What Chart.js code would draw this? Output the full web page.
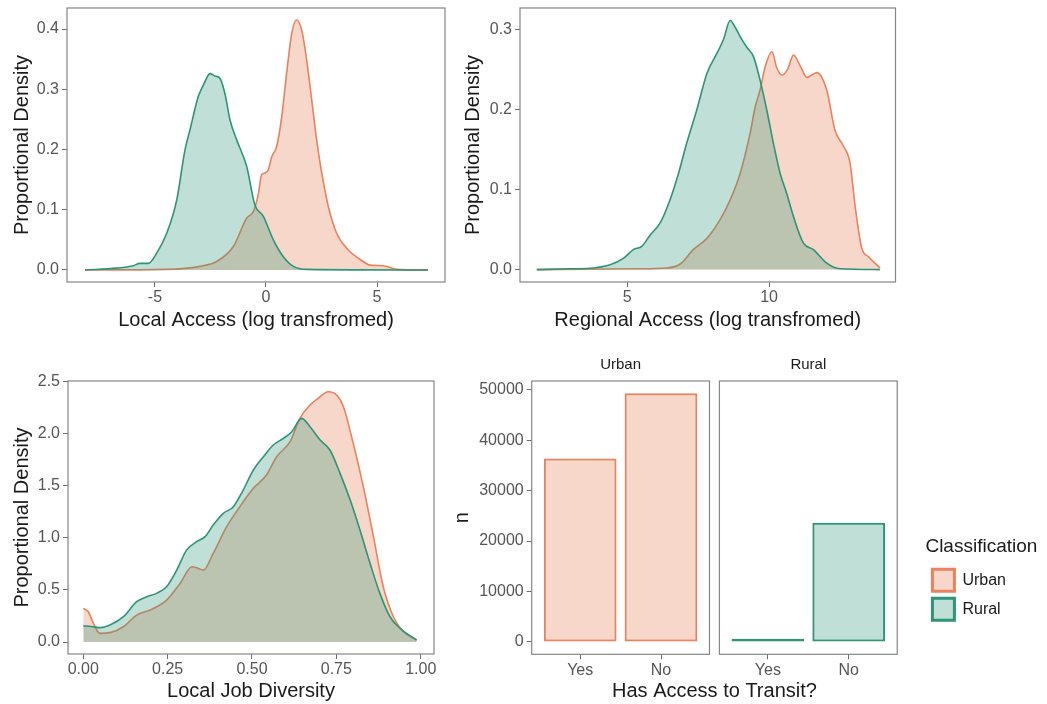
<!DOCTYPE html>
<html>
<head>
<meta charset="utf-8">
<title>Urban vs Rural access</title>
<script src="https://cdn.jsdelivr.net/npm/chart.js@4.4.1/dist/chart.umd.min.js"></script>
<style>
  html, body { margin: 0; padding: 0; background: #fff; }
  #wrap { position: relative; width: 1047px; height: 704px; overflow: hidden; }
  .panel { position: absolute; }
</style>
</head>
<body>
<div id="wrap">
  <div class="panel" style="left:0;top:0;width:455px;height:340px"><canvas id="localAccess"></canvas></div>
  <div class="panel" style="left:455px;top:0;width:450px;height:340px"><canvas id="regionalAccess"></canvas></div>
  <div class="panel" style="left:0;top:352px;width:440px;height:352px"><canvas id="jobDiversity"></canvas></div>
  <div class="panel" style="left:440px;top:352px;width:607px;height:352px"><canvas id="transit"></canvas></div>
</div>
<script>
/* ---------- data ---------- */

// Local Access (log transformed) densities
const localUrbanX = [-8.15, -4.47, -2.97, -2.22, -1.47, -0.87, -0.57, -0.35, -0.2, -0.05, 0.1, 0.26, 0.48, 0.71, 0.93, 1.16, 1.38, 1.61, 1.83, 2.06, 2.28, 2.51, 2.81, 3.18, 3.71, 4.38, 4.68, 5.28, 5.89, 7.3];
const localUrbanY = [0, 0.001, 0.006, 0.014, 0.039, 0.086, 0.097, 0.125, 0.158, 0.161, 0.166, 0.188, 0.205, 0.255, 0.327, 0.393, 0.415, 0.398, 0.349, 0.282, 0.216, 0.161, 0.105, 0.061, 0.033, 0.014, 0.008, 0.007, 0.001, 0];
const localRuralX = [-8.15, -6.73, -5.98, -5.68, -5.3, -4.92, -4.47, -4.02, -3.65, -3.42, -3.05, -2.82, -2.52, -2.3, -2.07, -1.85, -1.62, -1.32, -0.87, -0.5, -0.12, 0.33, 0.78, 1.23, 1.83, 7.3];
const localRuralY = [0, 0.003, 0.007, 0.011, 0.011, 0.028, 0.061, 0.116, 0.199, 0.233, 0.288, 0.307, 0.326, 0.322, 0.318, 0.293, 0.249, 0.216, 0.172, 0.108, 0.089, 0.05, 0.022, 0.006, 0.001, 0];
const localTicksX = [-5, 0, 5];
const localTicksY = [0, 0.1, 0.2, 0.3, 0.4];

// Regional Access (log transformed) densities
const regUrbanX = [1.82, 3.58, 5.34, 6.4, 6.87, 7.33, 7.81, 8.27, 8.63, 8.98, 9.33, 9.51, 9.68, 9.86, 10.1, 10.27, 10.45, 10.65, 10.86, 11.1, 11.33, 11.5, 11.68, 12.03, 12.32, 12.62, 12.85, 13.03, 13.26, 13.5, 13.91];
const regUrbanY = [0, 0.0005, 0.001, 0.002, 0.007, 0.025, 0.039, 0.062, 0.087, 0.12, 0.17, 0.203, 0.224, 0.253, 0.272, 0.252, 0.243, 0.25, 0.268, 0.254, 0.24, 0.243, 0.246, 0.224, 0.174, 0.154, 0.133, 0.079, 0.027, 0.016, 0.002];
const regRuralX = [1.82, 2.99, 3.81, 4.4, 4.87, 5.22, 5.52, 5.81, 6.16, 6.51, 6.81, 7.1, 7.45, 7.81, 8.16, 8.39, 8.63, 8.8, 8.98, 9.21, 9.45, 9.68, 9.92, 10.15, 10.39, 10.62, 10.86, 11.21, 11.56, 12.03, 12.5, 13.9];
const regRuralY = [0, 0.001, 0.002, 0.006, 0.014, 0.025, 0.029, 0.043, 0.058, 0.087, 0.12, 0.158, 0.199, 0.245, 0.27, 0.287, 0.311, 0.303, 0.291, 0.278, 0.266, 0.237, 0.199, 0.158, 0.12, 0.095, 0.066, 0.033, 0.025, 0.008, 0.001, 0];
const regTicksX = [5, 10];
const regTicksY = [0, 0.1, 0.2, 0.3];

// Local Job Diversity densities
const divUrbanX = [0, 0.015, 0.03, 0.049, 0.079, 0.119, 0.158, 0.198, 0.247, 0.287, 0.322, 0.341, 0.356, 0.385, 0.425, 0.464, 0.504, 0.543, 0.573, 0.613, 0.642, 0.672, 0.696, 0.726, 0.751, 0.771, 0.8, 0.83, 0.86, 0.889, 0.919, 0.949, 0.988];
const divUrbanY = [0.323, 0.291, 0.179, 0.083, 0.09, 0.147, 0.259, 0.307, 0.403, 0.563, 0.723, 0.707, 0.691, 0.851, 1.108, 1.3, 1.476, 1.604, 1.78, 1.924, 2.148, 2.276, 2.34, 2.404, 2.372, 2.26, 1.908, 1.492, 1.012, 0.531, 0.243, 0.099, 0.019];
const divRuralX = [0, 0.03, 0.05, 0.079, 0.119, 0.158, 0.188, 0.217, 0.247, 0.277, 0.306, 0.336, 0.361, 0.385, 0.415, 0.445, 0.474, 0.504, 0.534, 0.563, 0.593, 0.618, 0.647, 0.672, 0.702, 0.731, 0.761, 0.791, 0.82, 0.85, 0.879, 0.909, 0.939, 0.988];
const divRuralY = [0.157, 0.147, 0.138, 0.163, 0.243, 0.387, 0.435, 0.467, 0.531, 0.691, 0.883, 0.964, 1.012, 1.124, 1.236, 1.3, 1.46, 1.652, 1.78, 1.892, 1.956, 2.02, 2.148, 2.068, 1.94, 1.844, 1.62, 1.364, 1.076, 0.755, 0.467, 0.243, 0.131, 0.019];
const divTicksX = [0, 0.25, 0.5, 0.75, 1];
const divTicksY = [0, 0.5, 1, 1.5, 2, 2.5];

// Has Access to Transit? counts, faceted by classification
const transitCats = ['Yes', 'No'];
const urbanCounts = [36400, 49350];
const ruralCounts = [600, 23650];
const countTicks = [0, 10000, 20000, 30000, 40000, 50000];

/* ---------- styling ---------- */
const FONT = "'Liberation Sans', Arial, sans-serif";
const URBAN = '#e9825d', URBAN_FILL = 'rgba(233,130,93,0.32)';
const RURAL = '#2e9478', RURAL_FILL = 'rgba(46,148,120,0.3)';
const LABEL_COLOR = '#555555';
const TITLE_COLOR = '#1a1a1a';
const FRAME_COLOR = '#858585';

Chart.defaults.font.family = FONT;

// ggplot-like panel border (+ facet strips)
const panelFrame = {
  id: 'panelFrame',
  afterLayout(chart) {
    // give the legend the rest of the canvas so its title is not clipped
    const lg = chart.legend;
    if (lg && lg.options.display) { lg.right = chart.width; lg.width = lg.right - lg.left; }
  },
  afterDatasetsDraw(chart, args, opts) {
    const { ctx, chartArea: a } = chart;
    const xs = chart.scales.x;
    const facets = opts.facets || [{ min: xs.min, max: xs.max }];
    ctx.save();
    ctx.strokeStyle = FRAME_COLOR;
    ctx.lineWidth = 1.2;
    facets.forEach(f => {
      const l = xs.getPixelForValue(f.min), r = xs.getPixelForValue(f.max);
      ctx.strokeRect(l, a.top, r - l, a.bottom - a.top);
      if (f.label) {
        ctx.fillStyle = TITLE_COLOR;
        ctx.font = '15px ' + FONT;
        ctx.textAlign = 'center';
        ctx.textBaseline = 'middle';
        ctx.fillText(f.label, (l + r) / 2, a.top - 16);
      }
    });
    ctx.restore();
  }
};

function axis(o) {
  return {
    type: 'linear',
    position: o.position,
    min: o.min,
    max: o.max,
    offset: false,
    border: { display: false },
    grid: { offset: false, drawOnChartArea: false, drawTicks: true, tickLength: 5, color: '#6e6e6e', lineWidth: 1 },
    ticks: {
      color: LABEL_COLOR, font: { size: 16 }, padding: o.pad, autoSkip: false, maxRotation: 0,
      callback: (v, i) => o.labels[i]
    },
    title: { display: true, text: o.title, color: TITLE_COLOR, font: { size: 20 }, padding: o.titlePad },
    afterBuildTicks: s => { s.ticks = o.ticks.map(v => ({ value: v })); },
    afterFit: s => {
      if (s.isHorizontal()) { s.height = o.size; s.paddingLeft = 0; s.paddingRight = 0; }
      else { s.width = o.size; s.paddingTop = 0; s.paddingBottom = 0; }
    }
  };
}

function curve(label, xs, ys, color, fill) {
  return {
    label,
    data: xs.map((x, i) => ({ x, y: ys[i] })),
    borderColor: color,
    backgroundColor: fill,
    borderWidth: 1.6,
    fill: 'origin',
    pointRadius: 0,
    cubicInterpolationMode: 'monotone'
  };
}

function densityChart(id, s) {
  return new Chart(document.getElementById(id), {
    type: 'line',
    data: {
      // rural listed first so it is painted on top of urban
      datasets: [
        curve('Rural', s.ruralX, s.ruralY, RURAL, RURAL_FILL),
        curve('Urban', s.urbanX, s.urbanY, URBAN, URBAN_FILL)
      ]
    },
    options: {
      animation: false,
      responsive: true,
      maintainAspectRatio: false,
      layout: { padding: s.padding, autoPadding: false },
      plugins: { legend: { display: false }, tooltip: { enabled: false }, panelFrame: {} },
      scales: {
        x: axis({ min: s.xMin, max: s.xMax, ticks: s.ticksX, labels: s.labelsX, pad: 1.4,
                  title: s.xTitle, titlePad: { top: 0, bottom: s.xTitleBottom }, size: s.xSize }),
        y: axis({ min: s.yMin, max: s.yMax, ticks: s.ticksY, labels: s.labelsY, pad: 3,
                  title: 'Proportional Density', titlePad: { top: s.yTitleTop, bottom: 0 }, size: s.ySize })
      }
    },
    plugins: [panelFrame]
  });
}

densityChart('localAccess', {
  urbanX: localUrbanX, urbanY: localUrbanY, ruralX: localRuralX, ruralY: localRuralY,
  xMin: -8.96, xMax: 8.06, yMin: -0.02, yMax: 0.435,
  ticksX: localTicksX, labelsX: localTicksX.map(String),
  ticksY: localTicksY, labelsY: localTicksY.map(v => v.toFixed(1)),
  xTitle: 'Local Access (log transfromed)', xTitleBottom: 8, xSize: 58,
  yTitleTop: 10, ySize: 67,
  padding: { top: 8, right: 10, bottom: 0, left: 0 }
});

densityChart('regionalAccess', {
  urbanX: regUrbanX, urbanY: regUrbanY, ruralX: regRuralX, ruralY: regRuralY,
  xMin: 1.23, xMax: 14.45, yMin: -0.0155, yMax: 0.3267,
  ticksX: regTicksX, labelsX: regTicksX.map(String),
  ticksY: regTicksY, labelsY: regTicksY.map(v => v.toFixed(1)),
  xTitle: 'Regional Access (log transfromed)', xTitleBottom: 8, xSize: 58,
  yTitleTop: 6, ySize: 65,
  padding: { top: 8, right: 9.5, bottom: 0, left: 0 }
});

densityChart('jobDiversity', {
  urbanX: divUrbanX, urbanY: divUrbanY, ruralX: divRuralX, ruralY: divRuralY,
  xMin: -0.0453, xMax: 1.0394, yMin: -0.115, yMax: 2.507,
  ticksX: divTicksX, labelsX: divTicksX.map(v => v.toFixed(2)),
  ticksY: divTicksY, labelsY: divTicksY.map(v => v.toFixed(1)),
  xTitle: 'Local Job Diversity', xTitleBottom: 0.3, xSize: 50,
  yTitleTop: 10.5, ySize: 68,
  padding: { top: 29, right: 6, bottom: 0, left: 0 }
});

// Faceted bar chart: Urban facet at 0..1, Rural facet shifted right by its width plus a gap
const FACET_WIDTH = transitCats.length + 0.2;   // categories + 0.6 expansion each side
const FACET_GAP = 0.123;
const urbanPos = transitCats.map((c, i) => i);
const ruralPos = transitCats.map((c, i) => i + FACET_WIDTH + FACET_GAP);
const facets = [
  { label: 'Urban', min: -0.6, max: FACET_WIDTH - 0.6 },
  { label: 'Rural', min: FACET_WIDTH - 0.6 + FACET_GAP, max: 2 * FACET_WIDTH - 0.6 + FACET_GAP }
];

new Chart(document.getElementById('transit'), {
  type: 'bar',
  data: {
    datasets: [
      {
        label: 'Urban',
        data: transitCats.map((c, i) => ({ x: urbanPos[i], y: urbanCounts[i] })),
        backgroundColor: URBAN_FILL, borderColor: URBAN, borderWidth: 2, borderSkipped: false,
        grouped: false, barPercentage: 0.9, categoryPercentage: 1, xAxisID: 'x', yAxisID: 'y'
      },
      {
        label: 'Rural',
        data: transitCats.map((c, i) => ({ x: ruralPos[i], y: ruralCounts[i] })),
        backgroundColor: RURAL_FILL, borderColor: RURAL, borderWidth: 2, borderSkipped: false,
        grouped: false, barPercentage: 0.9, categoryPercentage: 1, xAxisID: 'x', yAxisID: 'y'
      }
    ]
  },
  options: {
    animation: false,
    responsive: true,
    maintainAspectRatio: false,
    layout: { padding: { top: 29, right: 31, bottom: 0, left: 0 }, autoPadding: false },
    plugins: {
      tooltip: { enabled: false },
      panelFrame: { facets },
      legend: {
        position: 'right',
        align: 'start',
        title: {
          display: true, text: 'Classification', position: 'start', color: TITLE_COLOR,
          font: { size: 19 }, padding: { top: 156, bottom: 2.4 }
        },
        labels: {
          boxWidth: 22, boxHeight: 22, padding: 7, color: TITLE_COLOR, font: { size: 16 },
          generateLabels: chart => Chart.defaults.plugins.legend.labels.generateLabels(chart)
            .map(l => ({ ...l, lineWidth: 3 }))
        }
      }
    },
    scales: {
      x: axis({ min: facets[0].min, max: facets[1].max, ticks: [...urbanPos, ...ruralPos],
                labels: [...transitCats, ...transitCats], pad: 1.4,
                title: 'Has Access to Transit?', titlePad: { top: 0, bottom: 0.3 }, size: 49.7 }),
      y: axis({ min: -2465, max: 51765, ticks: countTicks, labels: countTicks.map(String), pad: 3,
                title: 'n', titlePad: { top: 10.7, bottom: 0 }, size: 91.7 }),
      // empty spacer between the panels and the legend
      gap: {
        type: 'linear', position: 'right', display: true,
        grid: { display: false }, border: { display: false }, ticks: { display: false },
        afterFit: s => { s.width = 28.2; s.paddingTop = 0; s.paddingBottom = 0; }
      }
    }
  },
  plugins: [panelFrame]
});
</script>
</body>
</html>
